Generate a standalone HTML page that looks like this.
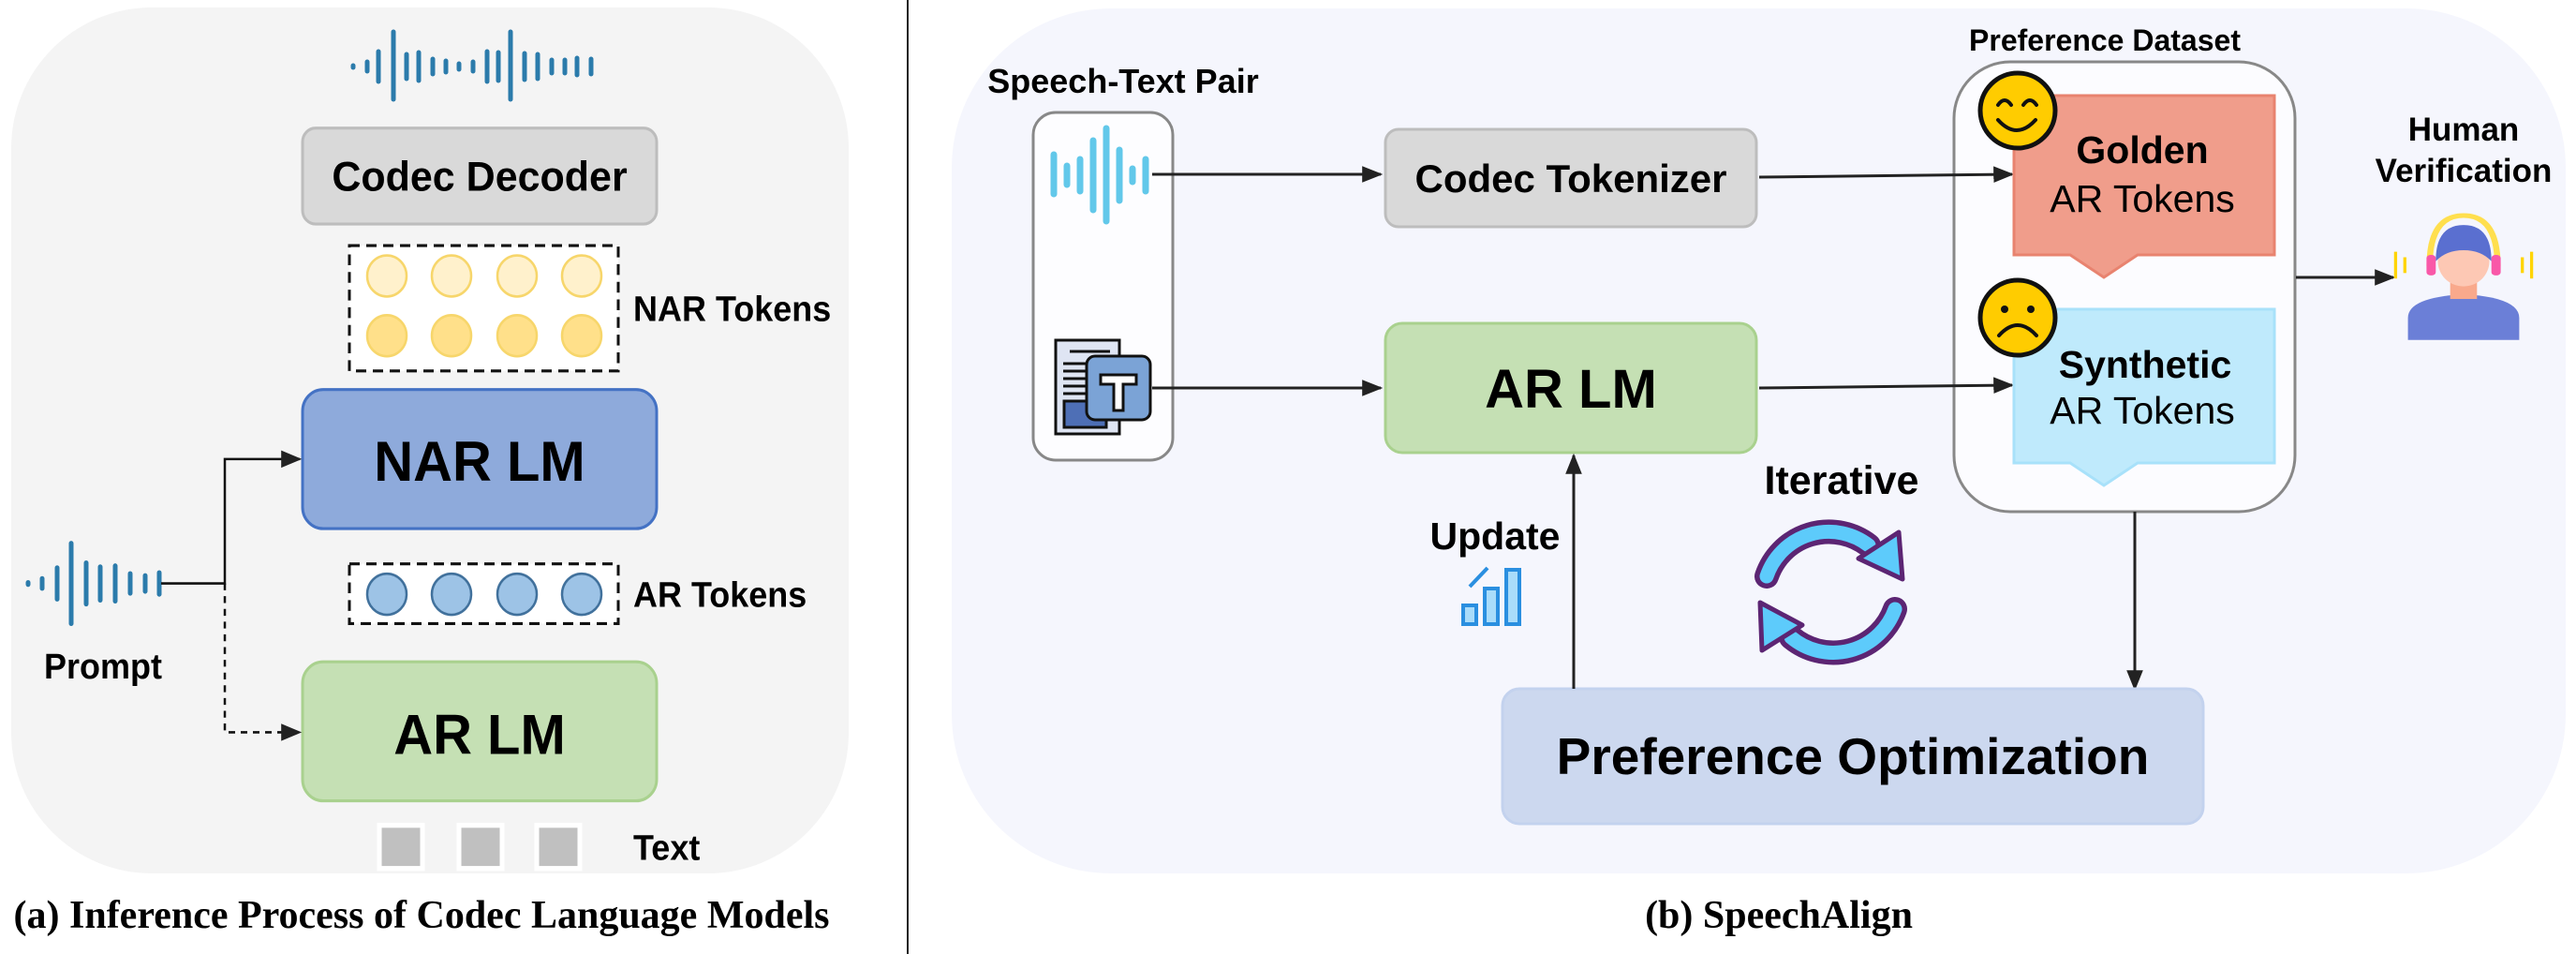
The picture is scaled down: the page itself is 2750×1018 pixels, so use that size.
<!DOCTYPE html>
<html><head><meta charset="utf-8"><style>
html,body{margin:0;padding:0;background:#fff;}
svg{display:block;}
text{font-family:"Liberation Sans",Arial,sans-serif;}
.cap{font-family:"Liberation Serif",serif;font-weight:bold;}
</style></head><body>
<svg width="2750" height="1018" viewBox="0 0 2750 1018" xmlns="http://www.w3.org/2000/svg">
<defs>
<marker id="ar2" viewBox="0 0 10 10" refX="9" refY="5" markerWidth="22" markerHeight="22" markerUnits="userSpaceOnUse" orient="auto"><path d="M0,1 L10,5 L0,9 z" fill="#222"/></marker>
</defs>
<!-- LEFT PANEL -->
<rect x="12" y="8" width="894" height="924" rx="150" fill="#f4f4f4"/>
<g stroke="#2b7bab" stroke-width="5" stroke-linecap="round">
<line x1="377" y1="70" x2="377" y2="72"/><line x1="392" y1="66" x2="392" y2="76"/><line x1="404" y1="55" x2="404" y2="87"/><line x1="420" y1="34" x2="420" y2="106"/><line x1="434" y1="58" x2="434" y2="84"/><line x1="447" y1="56" x2="447" y2="86"/><line x1="462" y1="63" x2="462" y2="79"/><line x1="476" y1="65" x2="476" y2="77"/><line x1="490" y1="68" x2="490" y2="74"/><line x1="505" y1="66" x2="505" y2="76"/><line x1="520" y1="55" x2="520" y2="87"/><line x1="532" y1="56" x2="532" y2="86"/><line x1="545" y1="34" x2="545" y2="106"/><line x1="560" y1="57" x2="560" y2="85"/><line x1="574" y1="58" x2="574" y2="84"/><line x1="589" y1="64" x2="589" y2="78"/><line x1="603" y1="64" x2="603" y2="78"/><line x1="616" y1="62" x2="616" y2="80"/><line x1="631" y1="63" x2="631" y2="79"/>
</g>
<g transform="matrix(1,0,0,1.045,0,5)">
<rect x="323" y="126" width="378" height="98" rx="14" fill="#d9d9d9" stroke="#bdbdbd" stroke-width="3"/>
<text x="512" y="190" font-size="43" font-weight="bold" text-anchor="middle">Codec Decoder</text>
<rect x="373" y="246" width="287" height="128" fill="#fff" stroke="#111" stroke-width="3" stroke-dasharray="11,7"/>
<g stroke="#f7d66b" stroke-width="2.5">
<circle cx="413" cy="277" r="21" fill="#fff1cc"/><circle cx="482" cy="277" r="21" fill="#fff1cc"/><circle cx="552" cy="277" r="21" fill="#fff1cc"/><circle cx="621" cy="277" r="21" fill="#fff1cc"/>
<circle cx="413" cy="338" r="21" fill="#ffe08a"/><circle cx="482" cy="338" r="21" fill="#ffe08a"/><circle cx="552" cy="338" r="21" fill="#ffe08a"/><circle cx="621" cy="338" r="21" fill="#ffe08a"/>
</g>
<text x="676" y="323" font-size="36" font-weight="bold">NAR Tokens</text>
<rect x="323" y="393" width="378" height="142" rx="22" fill="#8eaadb" stroke="#4472c4" stroke-width="3"/>
<text x="512" y="486" font-size="58" font-weight="bold" text-anchor="middle">NAR LM</text>
<rect x="373" y="571" width="287" height="61" fill="#fff" stroke="#111" stroke-width="3" stroke-dasharray="11,7"/>
<g stroke="#41719c" stroke-width="2.5" fill="#9dc3e6">
<circle cx="413" cy="602" r="21"/><circle cx="482" cy="602" r="21"/><circle cx="552" cy="602" r="21"/><circle cx="621" cy="602" r="21"/>
</g>
<text x="676" y="615" font-size="36" font-weight="bold">AR Tokens</text>
<rect x="323" y="671" width="378" height="142" rx="22" fill="#c5e0b4" stroke="#a9d18e" stroke-width="3"/>
<text x="512" y="765" font-size="58" font-weight="bold" text-anchor="middle">AR LM</text>
<g fill="#c0c0c0" stroke="#fff" stroke-width="5">
<rect x="405" y="838" width="46" height="44"/><rect x="490" y="838" width="46" height="44"/><rect x="573" y="838" width="46" height="44"/>
</g>
<text x="676" y="873" font-size="36" font-weight="bold">Text</text>
<g stroke="#2b7bab" stroke-width="5" stroke-linecap="round">
<line x1="30" y1="590" x2="30" y2="592"/><line x1="45" y1="586" x2="45" y2="596"/><line x1="61" y1="575" x2="61" y2="607"/><line x1="76" y1="550" x2="76" y2="632"/><line x1="92" y1="570" x2="92" y2="612"/><line x1="107" y1="574" x2="107" y2="608"/><line x1="123" y1="573" x2="123" y2="609"/><line x1="139" y1="581" x2="139" y2="601"/><line x1="155" y1="583" x2="155" y2="599"/><line x1="170" y1="580" x2="170" y2="602"/>
</g>
<text x="110" y="688" font-size="36" font-weight="bold" text-anchor="middle">Prompt</text>
<polyline points="172,591 240,591 240,464 320,464" fill="none" stroke="#111" stroke-width="2.5" marker-end="url(#ar2)"/>
<polyline points="240,591 240,743 320,743" fill="none" stroke="#111" stroke-width="2.5" stroke-dasharray="7,6" marker-end="url(#ar2)"/>
</g>
<text x="450" y="990" font-size="42" class="cap" text-anchor="middle">(a) Inference Process of Codec Language Models</text>
<line x1="969" y1="0" x2="969" y2="1018" stroke="#222" stroke-width="2"/>
<!-- RIGHT PANEL -->
<rect x="1016" y="9" width="1723" height="923" rx="170" fill="#f5f6fd"/>
<text x="1199" y="99" font-size="36" font-weight="bold" text-anchor="middle">Speech-Text Pair</text>
<rect x="1103" y="120" width="149" height="371" rx="24" fill="#fdfdff" stroke="#888" stroke-width="3"/>
<g stroke="#62c8ea" stroke-width="7" stroke-linecap="round">
<line x1="1125" y1="165" x2="1125" y2="207"/><line x1="1139" y1="177" x2="1139" y2="197"/><line x1="1153" y1="170" x2="1153" y2="204"/><line x1="1167" y1="150" x2="1167" y2="224"/><line x1="1181" y1="137" x2="1181" y2="236"/><line x1="1195" y1="160" x2="1195" y2="214"/><line x1="1209" y1="180" x2="1209" y2="194"/><line x1="1223" y1="170" x2="1223" y2="204"/>
</g>
<g stroke="#111" stroke-width="3">
<rect x="1127" y="363" width="68" height="100" fill="#dfe5f3"/>
<rect x="1136" y="428" width="45" height="28" fill="#4e6fb6"/>
<line x1="1142" y1="375" x2="1185" y2="375"/><line x1="1135" y1="388" x2="1160" y2="388"/><line x1="1135" y1="396" x2="1160" y2="396"/><line x1="1135" y1="404" x2="1160" y2="404"/><line x1="1135" y1="412" x2="1160" y2="412"/><line x1="1135" y1="420" x2="1160" y2="420"/>
<rect x="1160" y="380" width="68" height="68" rx="9" fill="#7ba3d6"/>
<path d="M1175,400 h38 v10 h-14 v28 h-10 v-28 h-14z" fill="#fff"/>
</g>
<line x1="1230" y1="186" x2="1474" y2="186" stroke="#222" stroke-width="3" marker-end="url(#ar2)"/>
<line x1="1230" y1="414" x2="1474" y2="414" stroke="#222" stroke-width="3" marker-end="url(#ar2)"/>
<rect x="1479" y="138" width="396" height="104" rx="14" fill="#d9d9d9" stroke="#bdbdbd" stroke-width="3"/>
<text x="1677" y="205" font-size="42" font-weight="bold" text-anchor="middle">Codec Tokenizer</text>
<rect x="1479" y="345" width="396" height="138" rx="18" fill="#c5e0b4" stroke="#a9d18e" stroke-width="3"/>
<text x="1677" y="435" font-size="58" font-weight="bold" text-anchor="middle">AR LM</text>
<text x="2247" y="54" font-size="32" font-weight="bold" text-anchor="middle">Preference Dataset</text>
<rect x="2086" y="66" width="364" height="480" rx="60" fill="#fcfcff" stroke="#888" stroke-width="3"/>
<line x1="1878" y1="189" x2="2148" y2="186" stroke="#222" stroke-width="3" marker-end="url(#ar2)"/>
<line x1="1878" y1="414" x2="2148" y2="411" stroke="#222" stroke-width="3" marker-end="url(#ar2)"/>
<path d="M2150,102 h278 v170 h-146 l-36,24 l-36,-24 h-60z" fill="#f09d8b" stroke="#e8836f" stroke-width="3"/>
<text x="2287" y="174" font-size="41" font-weight="bold" text-anchor="middle">Golden</text>
<text x="2287" y="226" font-size="41" text-anchor="middle">AR Tokens</text>
<path d="M2150,330 h278 v164 h-146 l-36,24 l-36,-24 h-60z" fill="#bfeafc" stroke="#a8e1fa" stroke-width="3"/>
<text x="2290" y="403" font-size="41" font-weight="bold" text-anchor="middle">Synthetic</text>
<text x="2287" y="452" font-size="41" text-anchor="middle">AR Tokens</text>
<circle cx="2154" cy="118" r="40" fill="#ffcc00" stroke="#111" stroke-width="5"/>
<path d="M2133,112 q7,-10 14,0 M2160,112 q7,-10 14,0 M2133,128 q20,22 40,0" fill="none" stroke="#111" stroke-width="4" stroke-linecap="round"/>
<circle cx="2154" cy="339" r="40" fill="#ffcc00" stroke="#111" stroke-width="5"/>
<circle cx="2140" cy="330" r="4" fill="#111"/><circle cx="2168" cy="330" r="4" fill="#111"/>
<path d="M2134,358 q20,-22 40,0" fill="none" stroke="#111" stroke-width="4" stroke-linecap="round"/>
<text x="2630" y="150" font-size="35" font-weight="bold" text-anchor="middle">Human</text>
<text x="2630" y="194" font-size="35" font-weight="bold" text-anchor="middle">Verification</text>
<line x1="2451" y1="296" x2="2555" y2="296" stroke="#222" stroke-width="3" marker-end="url(#ar2)"/>
<g transform="translate(2630,230) scale(1.1,0.84) translate(-2630,-192)">
<path d="M2576,350 v-28 q0,-26 54,-30 q54,4 54,30 v28z" fill="#6b7fd7"/>
<rect x="2617" y="270" width="26" height="28" fill="#f9a98c"/>
<ellipse cx="2630" cy="250" rx="25" ry="32" fill="#fdc8b4"/>
<path d="M2603,250 q0,-46 27,-46 q27,0 27,46 q-10,-14 -27,-14 q-17,0 -27,14z" fill="#5a6fd0"/>
<path d="M2597,256 q0,-64 33,-64 q33,0 33,64" fill="none" stroke="#ffdf4e" stroke-width="6"/>
<rect x="2594" y="242" width="9" height="26" rx="4" fill="#f958a8"/><rect x="2657" y="242" width="9" height="26" rx="4" fill="#f958a8"/>
<g stroke="#ffd400" stroke-width="3"><line x1="2564" y1="238" x2="2564" y2="272"/><line x1="2573" y1="245" x2="2573" y2="265"/><line x1="2696" y1="238" x2="2696" y2="272"/><line x1="2687" y1="245" x2="2687" y2="265"/></g>
</g>
<line x1="2279" y1="546" x2="2279" y2="735" stroke="#222" stroke-width="3" marker-end="url(#ar2)"/>
<rect x="1604" y="735" width="748" height="144" rx="18" fill="#ccd8ef" stroke="#c3d2ee" stroke-width="3"/>
<text x="1978" y="826" font-size="55" font-weight="bold" text-anchor="middle">Preference Optimization</text>
<line x1="1680" y1="735" x2="1680" y2="486" stroke="#222" stroke-width="3" marker-end="url(#ar2)"/>
<text x="1596" y="586" font-size="41" font-weight="bold" text-anchor="middle">Update</text>
<g stroke="#2a8fe0" stroke-width="4" fill="#a9dcfa">
<rect x="1562" y="646" width="14" height="20"/><rect x="1585" y="628" width="14" height="38"/><rect x="1608" y="608" width="14" height="58"/>
<line x1="1569" y1="626" x2="1588" y2="606" fill="none"/>
</g>
<text x="1966" y="527" font-size="43" font-weight="bold" text-anchor="middle">Iterative</text>
<g fill="none" stroke-linecap="round">
<path d="M1886,615 A70 70 0 0 1 1995,582" stroke="#5c2573" stroke-width="26"/>
<path d="M1886,615 A70 70 0 0 1 1995,582" stroke="#5dcbfb" stroke-width="15"/>
<path d="M2023,650 A70 70 0 0 1 1912,680" stroke="#5c2573" stroke-width="26"/>
<path d="M2023,650 A70 70 0 0 1 1912,680" stroke="#5dcbfb" stroke-width="15"/>
</g>
<g stroke="#5c2573" stroke-width="5" fill="#5dcbfb" stroke-linejoin="round">
<path d="M1984,596 L2027,568 L2031,618 z"/>
<path d="M1924,667 L1881,694 L1879,643 z"/>
</g>
<text x="1899" y="990" font-size="42" class="cap" text-anchor="middle">(b) SpeechAlign</text>
</svg>
</body></html>
